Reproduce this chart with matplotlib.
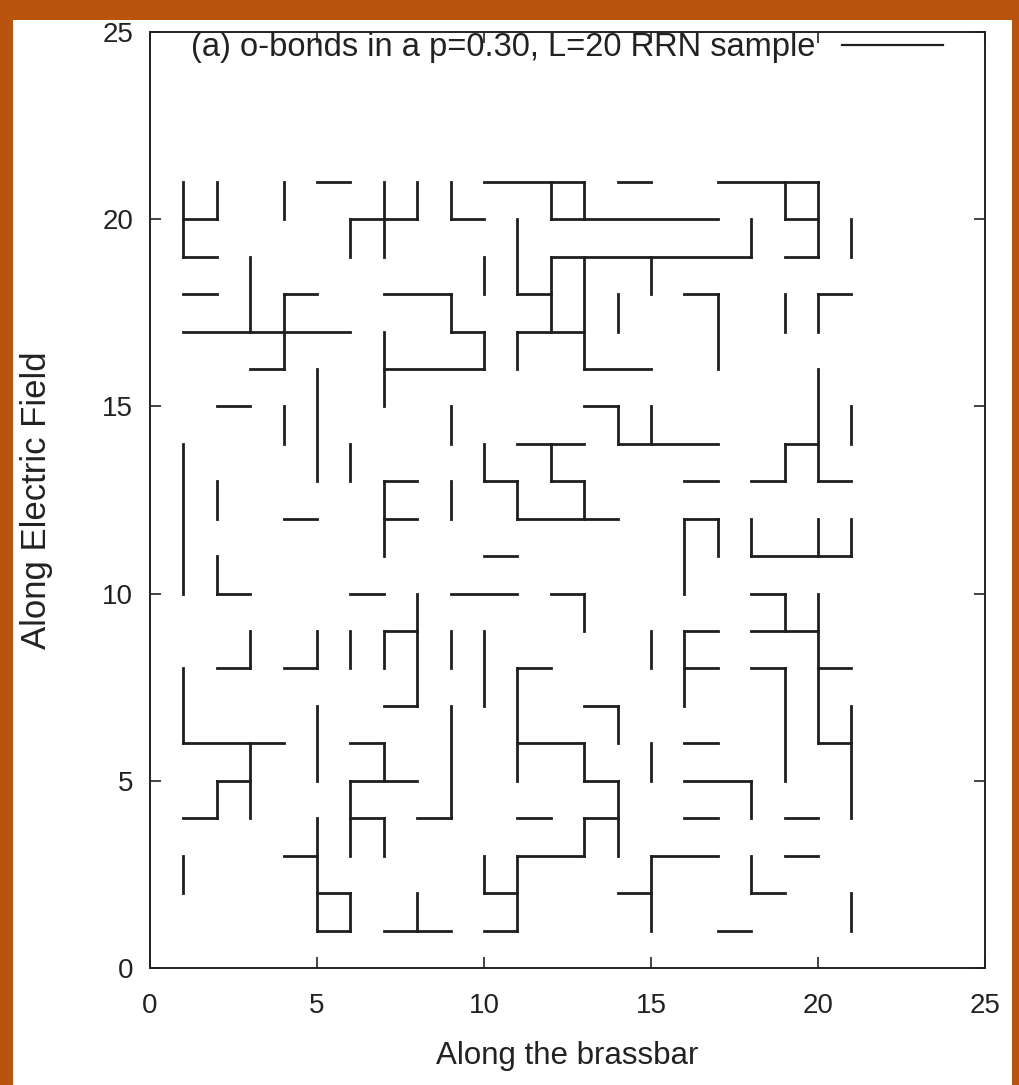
import matplotlib
matplotlib.use("Agg")
import matplotlib.pyplot as plt
from matplotlib.patches import Rectangle
from matplotlib.lines import Line2D

plt.rcParams['font.family'] = ['Liberation Sans', 'DejaVu Sans']

# Horizontal bonds: (x_start, x_end, y)
h_bonds = [
    (10, 13, 21), (14, 15, 21), (17, 20, 21), (5, 6, 21),
    (1, 2, 20), (6, 8, 20), (9, 10, 20), (12, 17, 20), (19, 20, 20),
    (1, 2, 19), (12, 18, 19), (19, 20, 19),
    (1, 2, 18), (4, 5, 18), (7, 9, 18), (11, 12, 18), (16, 17, 18), (20, 21, 18),
    (1, 6, 17), (9, 10, 17), (11, 13, 17),
    (3, 4, 16), (7, 10, 16), (13, 15, 16),
    (2, 3, 15), (13, 14, 15),
    (11, 13, 14), (14, 17, 14), (19, 20, 14),
    (7, 8, 13), (10, 11, 13), (12, 13, 13), (16, 17, 13), (18, 19, 13), (20, 21, 13),
    (4, 5, 12), (7, 8, 12), (11, 14, 12), (16, 17, 12),
    (10, 11, 11), (18, 21, 11),
    (2, 3, 10), (6, 7, 10), (9, 11, 10), (12, 13, 10), (18, 19, 10),
    (7, 8, 9), (16, 17, 9), (18, 20, 9),
    (2, 3, 8), (4, 5, 8), (11, 12, 8), (16, 17, 8), (18, 19, 8), (20, 21, 8),
    (7, 8, 7), (13, 14, 7),
    (1, 4, 6), (6, 7, 6), (11, 13, 6), (16, 17, 6), (20, 21, 6),
    (2, 3, 5), (6, 8, 5), (13, 14, 5), (16, 18, 5),
    (1, 2, 4), (6, 7, 4), (8, 9, 4), (11, 12, 4), (13, 14, 4), (16, 17, 4), (19, 20, 4),
    (4, 5, 3), (11, 13, 3), (15, 17, 3), (19, 20, 3),
    (5, 6, 2), (10, 11, 2), (14, 15, 2), (18, 19, 2),
    (5, 6, 1), (7, 9, 1), (10, 11, 1), (17, 18, 1),
]

# Vertical bonds: (x, y_start, y_end)
v_bonds = [
    (1, 19, 21), (1, 10, 14), (1, 6, 8), (1, 2, 3),
    (2, 20, 21), (2, 12, 13), (2, 10, 11), (2, 4, 5),
    (3, 17, 19), (3, 8, 9), (3, 4, 6),
    (4, 20, 21), (4, 16, 18), (4, 14, 15),
    (5, 13, 16), (5, 8, 9), (5, 5, 7), (5, 1, 4),
    (6, 19, 20), (6, 13, 14), (6, 8, 9), (6, 3, 5), (6, 1, 2),
    (7, 19, 21), (7, 15, 17), (7, 11, 13), (7, 8, 9), (7, 5, 6), (7, 3, 4),
    (8, 20, 21), (8, 7, 10), (8, 1, 2),
    (9, 20, 21), (9, 17, 18), (9, 14, 15), (9, 12, 13), (9, 8, 9), (9, 4, 7),
    (10, 18, 19), (10, 16, 17), (10, 13, 14), (10, 7, 9), (10, 2, 3),
    (11, 18, 20), (11, 16, 17), (11, 12, 13), (11, 5, 8), (11, 1, 3),
    (12, 20, 21), (12, 17, 19), (12, 13, 14),
    (13, 20, 21), (13, 16, 19), (13, 12, 13), (13, 9, 10), (13, 5, 6), (13, 3, 4),
    (14, 17, 18), (14, 14, 15), (14, 6, 7), (14, 3, 5),
    (15, 18, 19), (15, 14, 15), (15, 8, 9), (15, 5, 6), (15, 1, 3),
    (16, 10, 12), (16, 7, 9),
    (17, 16, 18), (17, 11, 12),
    (18, 19, 20), (18, 11, 12), (18, 4, 5), (18, 2, 3),
    (19, 20, 21), (19, 17, 18), (19, 13, 14), (19, 9, 10), (19, 5, 8),
    (20, 19, 21), (20, 17, 18), (20, 13, 16), (20, 11, 12), (20, 6, 10),
    (21, 19, 20), (21, 14, 15), (21, 11, 12), (21, 4, 7), (21, 1, 2),
]

ticks = [0, 5, 10, 15, 20, 25]
legend_label = "(a) o-bonds in a p=0.30, L=20 RRN sample"
xlabel = "Along the brassbar"
ylabel = "Along Electric Field"

W, H = 1020, 1085
fig = plt.figure(figsize=(W / 100, H / 100), dpi=100)
fig.patch.set_facecolor('#B8540E')
fig.add_artist(Rectangle((13 / W, 0), (1012 - 13) / W, (H - 20) / H,
                         transform=fig.transFigure, facecolor='white',
                         edgecolor='none', zorder=0))

ax = fig.add_axes([150 / W, 1 - 968 / H, (985 - 150) / W, (968 - 32) / H])
ax.set_facecolor('white')

col = '#1e1e1e'
txt = '#222222'
lw = 2.0
hx0 = [b[0] for b in h_bonds]
hx1 = [b[1] for b in h_bonds]
hy = [b[2] for b in h_bonds]
vx = [b[0] for b in v_bonds]
vy0 = [b[1] for b in v_bonds]
vy1 = [b[2] for b in v_bonds]
hl = ax.hlines(hy, hx0, hx1, colors=col, linewidth=lw)
vl = ax.vlines(vx, vy0, vy1, colors=col, linewidth=lw)
hl.set_capstyle('projecting')
vl.set_capstyle('projecting')

ax.set_xlim(0, 25)
ax.set_ylim(0, 25)
ax.set_xticks(ticks)
ax.set_yticks(ticks)
ax.tick_params(direction='in', length=8, width=1.2, top=True, right=True,
               labelsize=20, colors=txt)
ax.tick_params(axis='x', pad=18)
ax.tick_params(axis='y', pad=12)
for s in ax.spines.values():
    s.set_linewidth(1.4)
    s.set_color(txt)

ax.set_xlabel(xlabel, fontsize=22.5, color=txt)
ax.set_ylabel(ylabel, fontsize=25, color=txt)
ax.xaxis.set_label_coords(0.5, -0.078)
ax.yaxis.set_label_coords(-0.116, 0.5)

handle = Line2D([], [], color=col, linewidth=1.6)
leg = ax.legend([handle], [legend_label], loc='upper right',
                bbox_to_anchor=((943 - 150) / 835, (968 - 32) / 936),
                frameon=False, markerfirst=False, handlelength=3.1,
                handletextpad=0.8, borderpad=0, borderaxespad=0,
                fontsize=23.5)
for t in leg.get_texts():
    t.set_color(txt)

fig.savefig('out.png', dpi=100, facecolor=fig.get_facecolor())
